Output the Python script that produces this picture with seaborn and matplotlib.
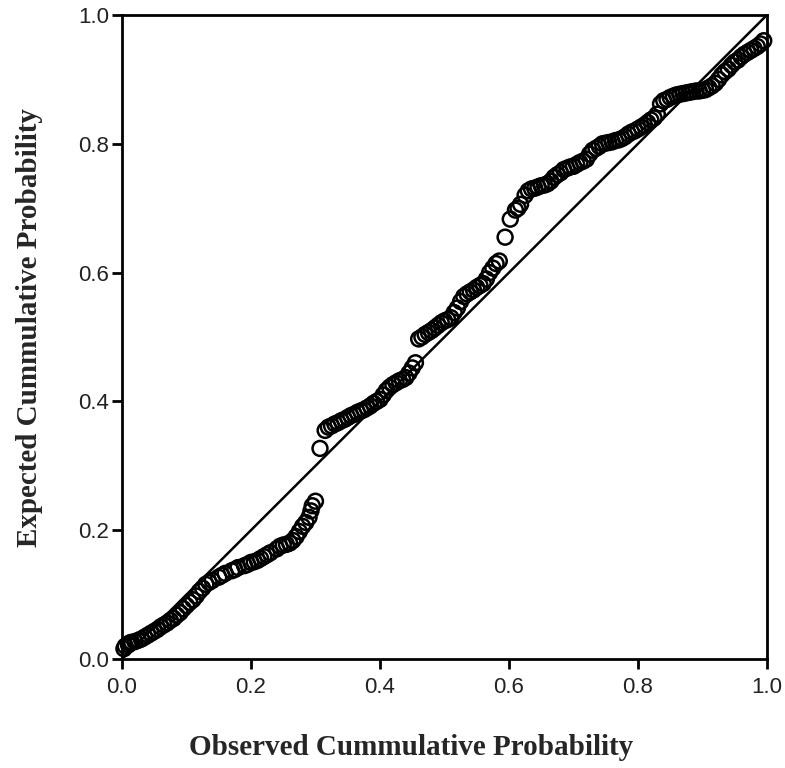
import seaborn as sns
import matplotlib.pyplot as plt
import pandas as pd

# P-P plot data
observed = [
    0.003, 0.005, 0.01, 0.012, 0.015, 0.02, 0.025, 0.03, 0.035, 0.04, 0.045, 0.05,
    0.055, 0.06, 0.065, 0.07, 0.075, 0.08, 0.085, 0.09, 0.095, 0.1, 0.105, 0.11,
    0.115, 0.12, 0.125, 0.13, 0.135,
    0.14, 0.15, 0.155, 0.16, 0.17, 0.175, 0.18, 0.19, 0.195, 0.2, 0.205, 0.21,
    0.215, 0.22, 0.225, 0.23, 0.24, 0.245, 0.25, 0.255, 0.26, 0.265, 0.27, 0.275,
    0.28, 0.285, 0.29, 0.293, 0.295, 0.3,
    0.307, 0.315, 0.32, 0.325, 0.33, 0.335, 0.34, 0.345, 0.35, 0.355, 0.36, 0.365,
    0.37, 0.375, 0.38, 0.385, 0.39, 0.395, 0.4, 0.405, 0.41, 0.415, 0.42, 0.425,
    0.43, 0.435, 0.44, 0.445, 0.45, 0.455,
    0.46, 0.465, 0.47, 0.475, 0.48, 0.485, 0.49, 0.495, 0.5, 0.505, 0.51, 0.515,
    0.52, 0.525, 0.53, 0.535, 0.54, 0.545, 0.55, 0.555, 0.56, 0.565, 0.57, 0.575,
    0.58, 0.585,
    0.594, 0.602, 0.61, 0.614, 0.618, 0.625, 0.63, 0.635, 0.64, 0.645, 0.65, 0.655,
    0.66, 0.665, 0.67, 0.675, 0.68, 0.685, 0.69, 0.695, 0.7, 0.705, 0.71, 0.715,
    0.72, 0.725, 0.73, 0.735, 0.74, 0.745, 0.75, 0.755,
    0.76, 0.765, 0.77, 0.775, 0.78, 0.785, 0.79, 0.795, 0.8, 0.805, 0.81, 0.815,
    0.82, 0.825, 0.83, 0.835, 0.84, 0.845, 0.85, 0.855, 0.86, 0.865, 0.87, 0.875,
    0.88, 0.885, 0.89, 0.895, 0.9, 0.905, 0.91, 0.915, 0.92, 0.925, 0.93, 0.935,
    0.94, 0.945, 0.95, 0.955, 0.96, 0.965, 0.97, 0.975, 0.98, 0.985, 0.99, 0.995,
]
expected = [
    0.016, 0.020, 0.022, 0.025, 0.026, 0.027, 0.029, 0.031, 0.034, 0.037, 0.040, 0.043,
    0.046, 0.050, 0.053, 0.056, 0.060, 0.063, 0.068, 0.072, 0.078, 0.083, 0.088, 0.092,
    0.098, 0.105, 0.110, 0.116, 0.119,
    0.122, 0.127, 0.130, 0.133, 0.137, 0.139, 0.142, 0.145, 0.147, 0.150, 0.151, 0.153,
    0.156, 0.159, 0.162, 0.165, 0.171, 0.175, 0.177, 0.178, 0.180, 0.184, 0.190, 0.198,
    0.206, 0.212, 0.220, 0.230, 0.238, 0.245,
    0.327, 0.355, 0.360, 0.362, 0.365, 0.367, 0.370, 0.372, 0.375, 0.378, 0.380, 0.383,
    0.385, 0.387, 0.390, 0.393, 0.397, 0.400, 0.403, 0.410, 0.417, 0.422, 0.426, 0.429,
    0.432, 0.434, 0.437, 0.444, 0.452, 0.460,
    0.497, 0.500, 0.504, 0.507, 0.510, 0.514, 0.518, 0.522, 0.525, 0.527, 0.530, 0.538,
    0.545, 0.555, 0.563, 0.567, 0.570, 0.573, 0.577, 0.580, 0.583, 0.590, 0.600, 0.607,
    0.614, 0.618,
    0.655, 0.683, 0.697, 0.700, 0.706, 0.720, 0.727, 0.730, 0.731, 0.733, 0.735, 0.736,
    0.738, 0.742, 0.748, 0.752, 0.755, 0.760, 0.762, 0.764, 0.765, 0.768, 0.771, 0.773,
    0.776, 0.784, 0.790, 0.793, 0.796, 0.800, 0.801, 0.802,
    0.803, 0.805, 0.806, 0.808, 0.811, 0.815, 0.818, 0.820, 0.823, 0.826, 0.829, 0.833,
    0.837, 0.840, 0.846, 0.862, 0.867, 0.869, 0.872, 0.874, 0.876, 0.877, 0.878, 0.879,
    0.880, 0.881, 0.882, 0.882, 0.883, 0.884, 0.887, 0.890, 0.894, 0.900, 0.907, 0.912,
    0.916, 0.922, 0.927, 0.930, 0.935, 0.939, 0.942, 0.945, 0.948, 0.951, 0.955, 0.960,
]
ticks = [0.0, 0.2, 0.4, 0.6, 0.8, 1.0]
tick_labels = ["0.0", "0.2", "0.4", "0.6", "0.8", "1.0"]

df = pd.DataFrame({"Observed": observed, "Expected": expected})

sns.set_style("ticks")
plt.rcParams["font.family"] = ["Liberation Sans", "DejaVu Sans"]

fig = plt.figure(figsize=(7.85, 7.68), dpi=100)
ax = fig.add_axes([0.1554, 0.1419, 0.8216, 0.8386])

# diagonal reference line
ax.plot([0, 1], [0, 1], color="black", lw=1.8, zorder=1)

sns.scatterplot(data=df, x="Observed", y="Expected", ax=ax,
                marker="o", s=115, facecolor="none", edgecolor="black",
                linewidth=1.8, zorder=2, clip_on=False)

ax.set_xlim(0, 1)
ax.set_ylim(0, 1)
ax.set_xticks(ticks)
ax.set_xticklabels(tick_labels)
ax.set_yticks(ticks)
ax.set_yticklabels(tick_labels)
ax.tick_params(axis="both", direction="out", length=7, width=2,
               labelsize=16, colors="black", labelcolor="#222222")
ax.tick_params(axis="x", pad=6)
ax.tick_params(axis="y", pad=2)

for side in ["top", "right", "left", "bottom"]:
    ax.spines[side].set_visible(True)
    ax.spines[side].set_linewidth(2)
    ax.spines[side].set_color("black")

ax.set_xlabel("Observed Cummulative Probability", family="Liberation Serif",
              fontweight="bold", fontsize=21)
ax.set_ylabel("Expected Cummulative Probability", family="Liberation Serif",
              fontweight="bold", fontsize=21)
# label positions (axes fraction) as in the reference
ax.xaxis.set_label_coords(0.448, -0.116)
ax.yaxis.set_label_coords(-0.122, 0.515)

fig.savefig("out.png", dpi=100)
plt.close(fig)
